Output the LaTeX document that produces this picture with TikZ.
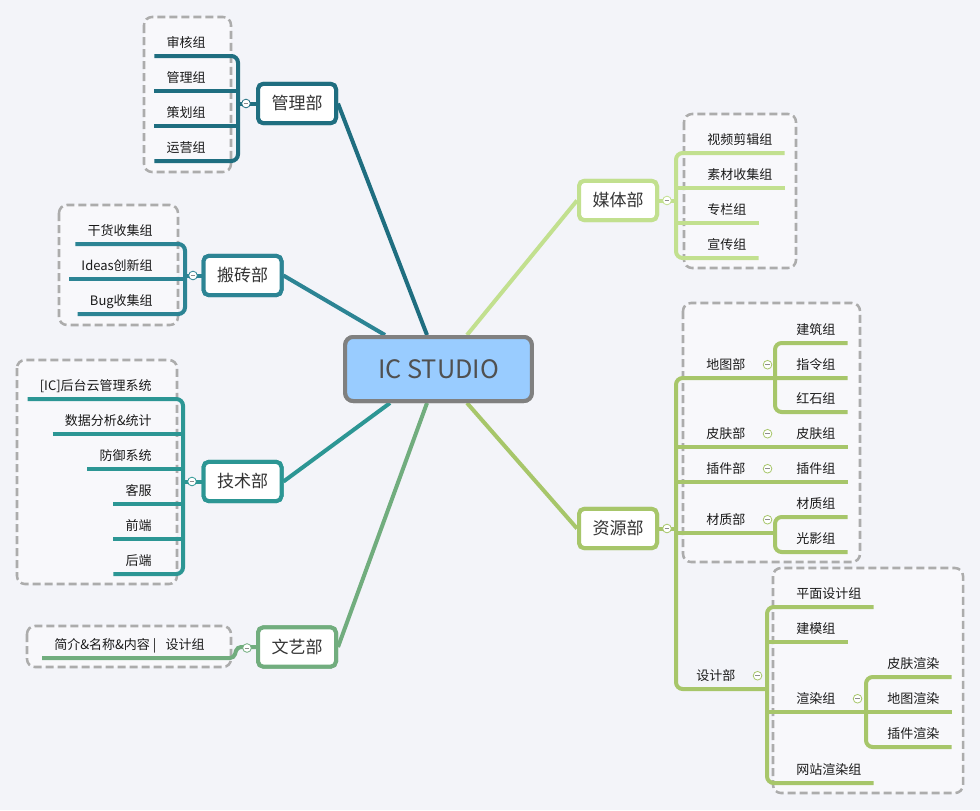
\documentclass[tikz,border=0pt]{standalone}
\usepackage{fontspec}
\setmainfont{Noto Sans CJK SC}
\usetikzlibrary{calc}
\definecolor{bgc}{RGB}{243,244,249}
\definecolor{boxbg}{RGB}{248,248,251}
\definecolor{dashgray}{RGB}{172,172,172}
\definecolor{leaftext}{RGB}{26,26,26}
\definecolor{depttext}{RGB}{51,51,51}
\definecolor{ictext}{RGB}{80,80,80}
\definecolor{icfill}{RGB}{153,204,255}
\definecolor{icdraw}{RGB}{128,128,128}
\definecolor{cA}{RGB}{31,110,128}
\definecolor{cB}{RGB}{44,132,148}
\definecolor{cC}{RGB}{44,150,148}
\definecolor{cD}{RGB}{113,173,126}
\definecolor{cE}{RGB}{194,224,143}
\definecolor{cF}{RGB}{167,198,106}
\newcommand\leaffont{\fontsize{9.75pt}{11pt}\selectfont}
\newcommand\deptfont{\fontsize{12.75pt}{14pt}\selectfont}
\newcommand\icfont{\fontsize{19pt}{22pt}\selectfont}
\begin{document}
\begin{tikzpicture}[x=0.75pt,y=-0.75pt,
  grp/.style={draw=dashgray,line width=1.9pt,dash pattern=on 6pt off 3pt,rounded corners=6pt,fill=boxbg},
  lw/.style={line width=3pt},
  lf/.style={font=\leaffont,inner xsep=9pt,inner ysep=3.75pt,text height=7.5pt,text depth=2.25pt,text=leaftext},
  dept/.style={draw,line width=3pt,rounded corners=4pt,fill=white,minimum width=58.5pt,minimum height=29.5pt,inner sep=0pt,font=\deptfont,text=depttext},
  icbox/.style={draw=icdraw,fill=icfill,line width=3pt,rounded corners=6pt,minimum width=140pt,minimum height=48pt,font=\icfont,text=ictext},
  tog/.style={circle,draw,line width=0.6pt,fill=white,minimum size=6.5pt,inner sep=0pt,
    path picture={\draw[line width=0.5pt,black!45] ([xshift=-1.8pt]path picture bounding box.center) -- ([xshift=1.8pt]path picture bounding box.center);}}
]
\useasboundingbox (0,0) rectangle (980,810);
\fill[bgc] (0,0) rectangle (980,810);

% group frames
\draw[grp] (144,17) rectangle (231,172);
\draw[grp] (59,205) rectangle (178,325);
\draw[grp] (17,360) rectangle (177,584);
\draw[grp] (27,626) rectangle (231,667);
\draw[grp] (684,114) rectangle (796,268);
\draw[grp] (683,303) rectangle (860,562);
\draw[grp] (773,568) rectangle (963,793);

% centre and departments (positions; redrawn on top later)
\node[icbox] (ic) at (438.5,369) {IC STUDIO};
\node[dept,draw=cA] (glb) at (297,103.5) {管理部};
\node[dept,draw=cB] (bzb) at (242.5,275.5) {搬砖部};
\node[dept,draw=cC] (jsb) at (242.5,481.5) {技术部};
\node[dept,draw=cD] (wyb) at (297,647) {文艺部};
\node[dept,draw=cE] (mtb) at (618,200.5) {媒体部};
\node[dept,draw=cF] (zyb) at (618,528.5) {资源部};

\coordinate (icA) at ($(ic.north)+(-11.5,0)$);
\coordinate (icB) at ($(ic.north)+(-53.5,0)$);
\coordinate (icC) at ($(ic.south)+(-48.5,0)$);
\coordinate (icD) at ($(ic.south)+(-11.5,0)$);
\coordinate (icE) at ($(ic.north)+(28.5,0)$);
\coordinate (icF) at ($(ic.south)+(28.5,0)$);

% --- leaves: left groups
\node[lf,anchor=south east] (a1) at (218,56) {审核组};
\node[lf,anchor=south east] (a2) at (218,91) {管理组};
\node[lf,anchor=south east] (a3) at (218,126) {策划组};
\node[lf,anchor=south east] (a4) at (218,161) {运营组};
\coordinate (vA) at (238,103.5);

\node[lf,anchor=south east] (b1) at (165,244) {干货收集组};
\node[lf,anchor=south east] (b2) at (165,279) {Ideas创新组};
\node[lf,anchor=south east] (b3) at (165,314) {Bug收集组};
\coordinate (vB) at (185,275.5);

\node[lf,anchor=south east] (c1) at (164,399) {[IC]后台云管理系统};
\node[lf,anchor=south east] (c2) at (164,434) {数据分析\&统计};
\node[lf,anchor=south east] (c3) at (164,469) {防御系统};
\node[lf,anchor=south east] (c4) at (164,504) {客服};
\node[lf,anchor=south east] (c5) at (164,539) {前端};
\node[lf,anchor=south east] (c6) at (164,574) {后端};
\coordinate (vC) at (183,481.5);

\node[lf,anchor=south east] (d1) at (217,658) {简介\&名称\&内容 |\hspace{7pt}设计组};
\coordinate (vD) at (238,647);

% --- leaves: right groups
\node[lf,anchor=south west] (m1) at (695,153) {视频剪辑组};
\node[lf,anchor=south west] (m2) at (695,188) {素材收集组};
\node[lf,anchor=south west] (m3) at (695,223) {专栏组};
\node[lf,anchor=south west] (m4) at (695,258) {宣传组};
\coordinate (vE) at (676,200.5);

\coordinate (vF) at (676,528.5);
\coordinate (vF2) at (775,0);
\coordinate (vF3) at (767,0);
\coordinate (vF4) at (866,0);
\node[lf,anchor=south west] (s1) at (694,378) {地图部};
\node[lf,anchor=south west] (s2) at (694,447) {皮肤部};
\node[lf,anchor=south west] (s3) at (694,482) {插件部};
\node[lf,anchor=south west] (s4) at (694,533) {材质部};
\node[lf,anchor=south west] (s5) at (684,689) {设计部};
\node[lf,anchor=south west] (r1) at (784,343) {建筑组};
\node[lf,anchor=south west] (r2) at (784,378) {指令组};
\node[lf,anchor=south west] (r3) at (784,412) {红石组};
\node[lf,anchor=south west] (r4) at (784,447) {皮肤组};
\node[lf,anchor=south west] (r5) at (784,482) {插件组};
\node[lf,anchor=south west] (r6) at (784,517) {材质组};
\node[lf,anchor=south west] (r7) at (784,552) {光影组};
\node[lf,anchor=south west] (p1) at (784,607) {平面设计组};
\node[lf,anchor=south west] (p2) at (784,642) {建模组};
\node[lf,anchor=south west] (p3) at (784,712) {渲染组};
\node[lf,anchor=south west] (p4) at (784,783) {网站渲染组};
\node[lf,anchor=south west] (q1) at (875,677) {皮肤渲染};
\node[lf,anchor=south west] (q2) at (875,712) {地图渲染};
\node[lf,anchor=south west] (q3) at (875,747) {插件渲染};

% ---- connectors
\draw[cA,lw] (icA) -- (glb.east);
\draw[cB,lw] (icB) -- (bzb.east);
\draw[cC,lw] (icC) -- (jsb.east);
\draw[cD,lw] (icD) -- (wyb.east);
\draw[cE,lw] (icE) -- (mtb.west);
\draw[cF,lw] (icF) -- (zyb.west);

% 管理部
\draw[cA,lw,rounded corners=5pt] (a1.south west) -- (a1.south -| vA) -- (a4.south -| vA) -- (a4.south west);
\draw[cA,lw] (a2.south west) -- (a2.south -| vA);
\draw[cA,lw] (a3.south west) -- (a3.south -| vA);
\draw[cA,lw] (vA) -- (glb.west);
% 搬砖部
\draw[cB,lw,rounded corners=5pt] (b1.south west) -- (b1.south -| vB) -- (b3.south -| vB) -- (b3.south west);
\draw[cB,lw] (b2.south west) -- (b2.south -| vB);
\draw[cB,lw] (vB) -- (bzb.west);
% 技术部
\draw[cC,lw,rounded corners=5pt] (c1.south west) -- (c1.south -| vC) -- (c6.south -| vC) -- (c6.south west);
\foreach \n in {c2,c3,c4,c5} \draw[cC,lw] (\n.south west) -- (\n.south -| vC);
\draw[cC,lw] (vC) -- (jsb.west);
% 文艺部
\draw[cD,lw,rounded corners=3pt] (d1.south west) -- ($(d1.south -| vD)+(-4,0)$) -- ($(vD)+(-1,0)$) -- (wyb.west);
% 媒体部
\draw[cE,lw,rounded corners=5pt] (m1.south east) -- (m1.south -| vE) -- (m4.south -| vE) -- (m4.south east);
\draw[cE,lw] (m2.south -| vE) -- (m2.south east);
\draw[cE,lw] (m3.south -| vE) -- (m3.south east);
\draw[cE,lw] (mtb.east) -- (vE);
% 资源部
\draw[cF,lw,rounded corners=5pt] (r2.south east) -- (s1.south -| vF) -- (s5.south -| vF) -- (s5.south -| vF3);
\draw[cF,lw] (zyb.east) -- (vF);
\draw[cF,lw,rounded corners=5pt] (r1.south east) -- (r1.south -| vF2) -- (r3.south -| vF2) -- (r3.south east);
\draw[cF,lw] (s2.south -| vF) -- (r4.south east);
\draw[cF,lw] (s3.south -| vF) -- (r5.south east);
\draw[cF,lw] (s4.south -| vF) -- (s4.south -| vF2);
\draw[cF,lw,rounded corners=5pt] (r6.south east) -- (r6.south -| vF2) -- (r7.south -| vF2) -- (r7.south east);
\draw[cF,lw,rounded corners=5pt] (p1.south east) -- (p1.south -| vF3) -- (p4.south -| vF3) -- (p4.south east);
\draw[cF,lw] (p2.south -| vF3) -- (p2.south east);
\draw[cF,lw] (p3.south -| vF3) -- (q2.south east);
\draw[cF,lw,rounded corners=5pt] (q1.south east) -- (q1.south -| vF4) -- (q3.south -| vF4) -- (q3.south east);

% boxes drawn again on top of connectors
\node[icbox] at (ic) {IC STUDIO};
\node[dept,draw=cA] at (glb) {管理部};
\node[dept,draw=cB] at (bzb) {搬砖部};
\node[dept,draw=cC] at (jsb) {技术部};
\node[dept,draw=cD] at (wyb) {文艺部};
\node[dept,draw=cE] at (mtb) {媒体部};
\node[dept,draw=cF] at (zyb) {资源部};

% toggles
\node[tog,draw=cA] (tA) at ($(vA)+(8,0)$) {};
\node[tog,draw=cB] (tB) at ($(vB)+(8,0)$) {};
\node[tog,draw=cC] (tC) at ($(vC)+(9,0)$) {};
\node[tog,draw=cD] (tD) at ($(vD)+(9,1)$) {};
\node[tog,draw=cE] (tE) at ($(vE)+(-9,0)$) {};
\node[tog,draw=cF] (tF) at ($(vF)+(-9,0)$) {};
\foreach \n in {s1,s2,s3,s4,s5,p3} \node[tog,draw=cF] at ($(\n.base east)+(10,-5)$) {};
\end{tikzpicture}
\end{document}
